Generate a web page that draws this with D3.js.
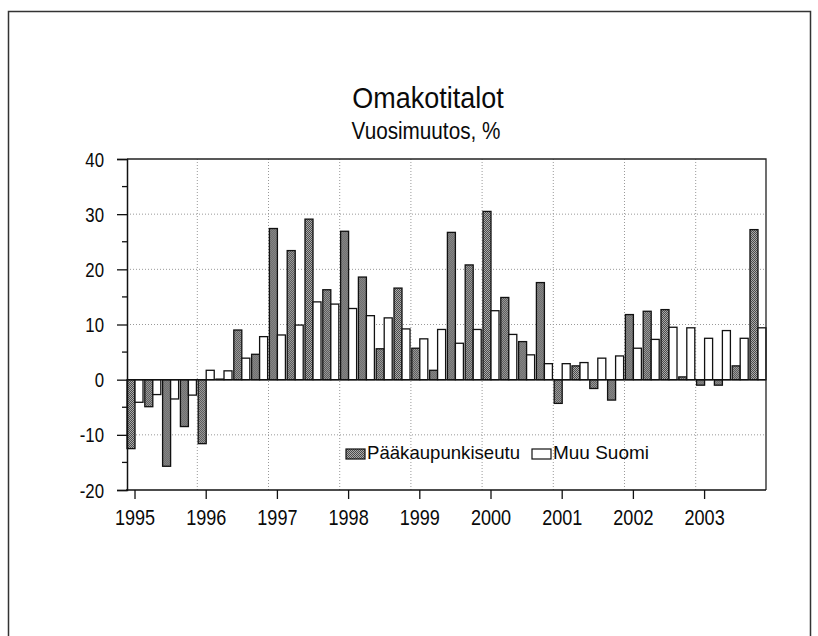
<!DOCTYPE html>
<html>
<head>
<meta charset="utf-8">
<script src="https://cdn.jsdelivr.net/npm/d3@7"></script>
<style>
  body { margin: 0; background: #fff; }
  text { font-family: "Liberation Sans", Arial, sans-serif; fill: #0a0a0a; }
</style>
</head>
<body>
<svg id="chart" width="818" height="636"></svg>
<script>
const years = ["1995","1996","1997","1998","1999","2000","2001","2002","2003"]
const quarters = ["Q1","Q2","Q3","Q4"]
// Pääkaupunkiseutu, vuosimuutos %
const paakaupunkiseutu = [
  -12.5, -4.9, -15.7, -8.5,
  -11.6, 0.1, 9.0, 4.6,
  27.4, 23.4, 29.1, 16.3,
  26.9, 18.6, 5.6, 16.6,
  5.7, 1.7, 26.7, 20.8,
  30.5, 14.9, 6.9, 17.6,
  -4.3, 2.5, -1.6, -3.7,
  11.8, 12.4, 12.7, 0.5,
  -1.0, -1.0, 2.5, 27.2
]
// Muu Suomi
const muuSuomi = [
  -4.1, -2.7, -3.5, -2.8,
  1.7, 1.6, 3.9, 7.8,
  8.1, 9.9, 14.1, 13.7,
  12.9, 11.6, 11.2, 9.2,
  7.4, 9.1, 6.6, 9.1,
  12.5, 8.2, 4.5, 2.9,
  2.9, 3.1, 3.9, 4.3,
  5.7, 7.3, 9.5, 9.4,
  7.5, 8.9, 7.5, 9.4
]
const seriesNames = ["Pääkaupunkiseutu", "Muu Suomi"]
const yTicks = [-20, -10, 0, 10, 20, 30, 40]

const periods = []
years.forEach(y => quarters.forEach(q => periods.push(y + q)))
const rows = periods.map((p, i) => ({p: p, vals: [paakaupunkiseutu[i], muuSuomi[i]]}))

const plotL = 127, plotR = 766, plotT = 159, plotB = 490
const svg = d3.select("#chart")

// narrow look: squeeze text to a share of its natural width
function narrow(sel, k) {
  sel.each(function() {
    const w = this.getComputedTextLength()
    d3.select(this).attr("textLength", w * k).attr("lengthAdjust", "spacingAndGlyphs")
  })
}

// stippled fill for the dark series
const defs = svg.append("defs")
const pat = defs.append("pattern").attr("id", "dots").attr("width", 2).attr("height", 2)
  .attr("patternUnits", "userSpaceOnUse")
pat.append("rect").attr("width", 2).attr("height", 2).attr("fill", "#ababab")
pat.append("rect").attr("width", 1).attr("height", 1).attr("fill", "#4a4a4a")
pat.append("rect").attr("x", 1).attr("y", 1).attr("width", 1).attr("height", 1).attr("fill", "#4a4a4a")
const fills = ["url(#dots)", "#fff"]

// outer frame
svg.append("path").attr("d", "M8.5,640V11.5H810.5V640").attr("fill", "none")
  .attr("stroke", "#333").attr("stroke-width", 1.5)

const x = d3.scaleBand().domain(periods).range([plotL, plotR]).paddingInner(0.1).paddingOuter(0)
const xs = d3.scaleBand().domain([0, 1]).range([0, x.bandwidth()])
const y = d3.scaleLinear().domain([-20, 40]).range([plotB, plotT])

// grid
const g = svg.append("g")
g.selectAll(".hg").data(yTicks.filter(v => v != 0 && v != 40 && v != -20)).enter().append("line")
  .attr("x1", plotL).attr("x2", plotR).attr("y1", d => y(d)).attr("y2", d => y(d))
  .attr("stroke", "#999").attr("stroke-width", 1).attr("stroke-dasharray", "1,2")
g.selectAll(".vg").data(years.slice(1)).enter().append("line")
  .attr("x1", d => x(d + "Q1") - x.step() * 0.05).attr("x2", d => x(d + "Q1") - x.step() * 0.05)
  .attr("y1", plotT).attr("y2", plotB)
  .attr("stroke", "#999").attr("stroke-width", 1).attr("stroke-dasharray", "1,2")

// bars
const grp = svg.append("g").selectAll("g").data(rows).enter().append("g")
  .attr("transform", d => "translate(" + x(d.p) + ",0)")
grp.selectAll("rect").data(d => d.vals.map((v, k) => ({k: k, v: v}))).enter().append("rect")
  .attr("x", d => xs(d.k))
  .attr("width", xs.bandwidth())
  .attr("y", d => y(Math.max(0, d.v)))
  .attr("height", d => Math.abs(y(d.v) - y(0)))
  .attr("fill", d => fills[d.k])
  .attr("stroke", "#111").attr("stroke-width", 1.3)

// zero line
svg.append("line").attr("x1", plotL).attr("x2", plotR).attr("y1", y(0)).attr("y2", y(0))
  .attr("stroke", "#111").attr("stroke-width", 1.5)

// plot frame (top, right)
svg.append("path").attr("d", "M" + plotL + "," + plotT + "H" + plotR + "V" + plotB)
  .attr("fill", "none").attr("stroke", "#222").attr("stroke-width", 1.3)

// y axis
const yAxis = svg.append("g").attr("transform", "translate(" + plotL + ",0)")
  .call(d3.axisLeft(y).tickValues(yTicks).tickSize(10).tickFormat(d => String(d)))
yAxis.select(".domain").attr("stroke", "#111").attr("stroke-width", 1.5)
yAxis.selectAll(".tick line").attr("stroke", "#111").attr("stroke-width", 1.3)
yAxis.selectAll("text").attr("font-size", 20).attr("x", -23).attr("dy", "0.35em").call(narrow, 0.84)
yAxis.append("g").selectAll("line").data([-15, -5, 5, 15, 25, 35]).enter().append("line")
  .attr("x1", -5).attr("x2", 0).attr("y1", d => y(d)).attr("y2", d => y(d))
  .attr("stroke", "#111").attr("stroke-width", 1.3)

// x axis
const xAxis = svg.append("g").attr("transform", "translate(0," + plotB + ")")
  .call(d3.axisBottom(x).tickValues(years.map(v => v + "Q1")).tickSize(9).tickFormat(d => d.slice(0, 4)))
xAxis.select(".domain").attr("d", "M" + (plotL - 1) + ",0H" + plotR).attr("stroke", "#111").attr("stroke-width", 1.5)
xAxis.selectAll(".tick line").attr("stroke", "#111").attr("stroke-width", 1.3)
xAxis.selectAll("text").attr("font-size", 22).attr("y", 19).call(narrow, 0.82)

// titles
svg.append("text").attr("x", 428).attr("y", 108).attr("text-anchor", "middle")
  .attr("font-size", 29).text("Omakotitalot").call(narrow, 0.93)
svg.append("text").attr("x", 426).attr("y", 139).attr("text-anchor", "middle")
  .attr("font-size", 23).text("Vuosimuutos, %").call(narrow, 0.9)

// legend
const leg = svg.append("g")
const legX = [346, 532], legTx = [367, 553], legW = [153, 96]
seriesNames.forEach((n, k) => {
  leg.append("rect").attr("x", legX[k]).attr("y", 449).attr("width", 19).attr("height", 10)
    .attr("fill", fills[k]).attr("stroke", "#111").attr("stroke-width", 1.2)
  leg.append("text").attr("x", legTx[k]).attr("y", 459).attr("font-size", 19).text(n)
    .attr("textLength", legW[k]).attr("lengthAdjust", "spacingAndGlyphs")
})
</script>
</body>
</html>
